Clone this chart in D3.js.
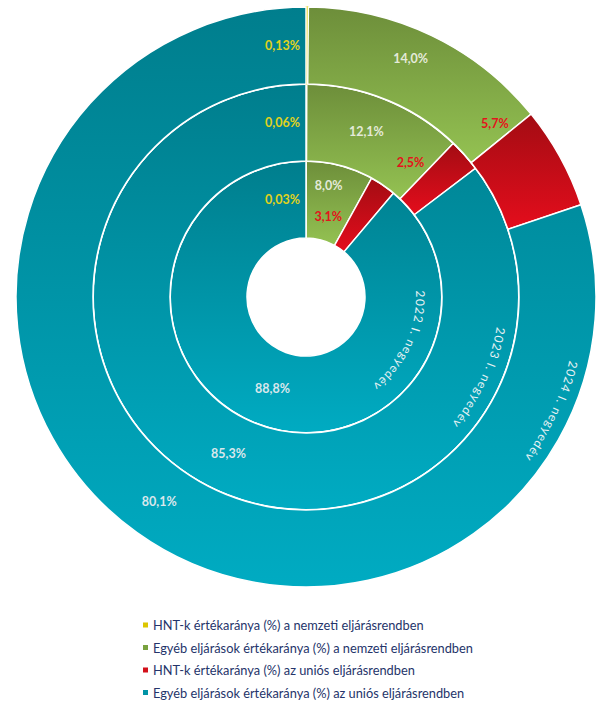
<!DOCTYPE html>
<html>
<head>
<meta charset="utf-8">
<script src="https://cdn.jsdelivr.net/npm/d3@7"></script>
<style>
  body { margin: 0; background: #fff; }
  svg { display: block; font-family: Lato, "Open Sans", sans-serif; }
</style>
</head>
<body>
<svg id="chart" width="600" height="702"></svg>
<script>
// rings, from inside out
const periods = ["2022 I. negyedév", "2023 I. negyedév", "2024 I. negyedév"];
const categories = [
  "HNT-k értékaránya (%) a nemzeti eljárásrendben",
  "Egyéb eljárások értékaránya (%) a nemzeti eljárásrendben",
  "HNT-k értékaránya (%) az uniós eljárásrendben",
  "Egyéb eljárások értékaránya (%) az uniós eljárásrendben"
];
const hntNemzeti = [0.03, 0.06, 0.13];
const egyebNemzeti = [8.0, 12.1, 14.0];
const hntUnios = [3.1, 2.5, 5.7];
const egyebUnios = [88.8, 85.3, 80.1];
const series = [hntNemzeti, egyebNemzeti, hntUnios, egyebUnios];

const colors = {
  top: ["#e2cf00", "#6d8e3a", "#a30c13", "#007e8d"],
  bottom: ["#e2cf00", "#94c252", "#e40d1c", "#00abc2"],
  legend: ["#dcc600", "#79a23f", "#d3101a", "#0094a6"],
  label: ["#e0d21a", "#e4ead9", "#e3141c", "#d9e7ec"]
};

const cx = 306, cy = 297;
const svg = d3.select("#chart");
const defs = svg.append("defs");

categories.forEach((c, i) => {
  const g = defs.append("linearGradient")
    .attr("id", `grad${i}`)
    .attr("x1", 0).attr("y1", 0).attr("x2", 0).attr("y2", 1);
  g.append("stop").attr("offset", "0%").attr("stop-color", colors.top[i]);
  g.append("stop").attr("offset", "100%").attr("stop-color", colors.bottom[i]);
});

const radius = d3.scaleLinear().domain([0, periods.length]).range([59, 290]);

const pie = d3.pie().sort(null).value((d) => d.value);

const loc = d3.formatLocale({ decimal: ",", thousands: " ", grouping: [3], currency: ["", ""] });
const fmt1 = loc.format(".1f");
const fmt2 = loc.format(".2f");

const chart = svg.append("g").attr("transform", `translate(${cx},${cy})`);

// label nudges per ring (degrees, px) so the small slices stay readable
const greenNudge = [{ da: -3, dr: 16 }, { da: -2, dr: 2 }, { da: -2, dr: 9 }];
const redNudge = [{ da: -13.5, dr: -14 }, { da: -6, dr: -4 }, { da: -3.5, dr: 5 }];
// distance of the ring title baseline from the ring's outer edge
const ringTextOffset = [26, 20, 19];

const deg = Math.PI / 180;
function polar(angle, r) {
  return [Math.sin(angle) * r, -Math.cos(angle) * r];
}

periods.forEach((p, ring) => {
  const r0 = radius(ring), r1 = radius(ring + 1), rm = (r0 + r1) / 2;
  const arcs = pie(series.map((s, i) => ({ cat: i, value: s[ring] })));
  const arc = d3.arc().innerRadius(r0).outerRadius(r1);

  const g = chart.append("g").attr("class", `ring ring-${ring}`);

  g.selectAll("path")
    .data(arcs)
    .enter()
    .append("path")
    .attr("d", arc)
    .attr("fill", (d) => `url(#grad${d.data.cat})`)
    .attr("stroke", (d) => (d.data.cat === 0 ? colors.top[0] : "#fff"))
    .attr("stroke-width", (d) => (d.data.cat === 0 ? 1.4 : 1.5));

  // redraw the white separators on top of the thin yellow slice
  g.append("circle")
    .attr("r", r1)
    .attr("fill", "none")
    .attr("stroke", "#fff")
    .attr("stroke-width", ring === periods.length - 1 ? 0 : 2);

  g.selectAll("text.val")
    .data(arcs)
    .enter()
    .append("text")
    .attr("class", "val")
    .attr("font-size", 12.5)
    .attr("font-weight", 700)
    .attr("fill", (d) => colors.label[d.data.cat])
    .attr("dominant-baseline", "central")
    .attr("text-anchor", (d) => (d.data.cat === 0 ? "end" : "middle"))
    .attr("transform", (d) => {
      let pos;
      if (d.data.cat === 0) {
        pos = polar(d.startAngle, rm);
        pos[0] -= 6;
      } else if (d.data.cat === 1) {
        const n = greenNudge[ring];
        pos = polar((d.startAngle + d.endAngle) / 2 + n.da * deg, rm + n.dr);
      } else if (d.data.cat === 2) {
        const n = redNudge[ring];
        pos = polar(d.startAngle + n.da * deg, rm + n.dr);
      } else {
        pos = arc.centroid(d);
      }
      return `translate(${pos[0]},${pos[1]})`;
    })
    .text((d) => (d.data.cat === 0 ? fmt2(d.data.value) : fmt1(d.data.value)) + "%");

  // ring title along the arc, centred at about 115 degrees
  const tr = r1 - ringTextOffset[ring];
  const a0 = 55 * deg, a1 = 175 * deg;
  const s = polar(a0, tr), e = polar(a1, tr);
  defs.append("path")
    .attr("id", `ringPath${ring}`)
    .attr("d", `M${s[0]},${s[1]} A${tr},${tr} 0 0 1 ${e[0]},${e[1]}`);
  g.append("text")
    .attr("font-size", 12)
    .attr("letter-spacing", 1.1)
    .attr("fill", "#e8f2f4")
    .append("textPath")
    .attr("href", `#ringPath${ring}`)
    .attr("startOffset", "50%")
    .attr("text-anchor", "middle")
    .text(p);
});

// legend
const legend = svg.append("g").attr("transform", "translate(143,625)");
const rowH = 22.5;
legend.selectAll("rect")
  .data(categories)
  .enter()
  .append("rect")
  .attr("x", 0)
  .attr("y", (d, i) => i * rowH - 2.5)
  .attr("width", 5)
  .attr("height", 5)
  .attr("fill", (d, i) => colors.legend[i]);
legend.selectAll("text")
  .data(categories)
  .enter()
  .append("text")
  .attr("x", 10)
  .attr("y", (d, i) => i * rowH)
  .attr("dominant-baseline", "central")
  .attr("font-size", 12.8)
  .attr("fill", "#25346a")
  .text((d) => d);
</script>
</body>
</html>
